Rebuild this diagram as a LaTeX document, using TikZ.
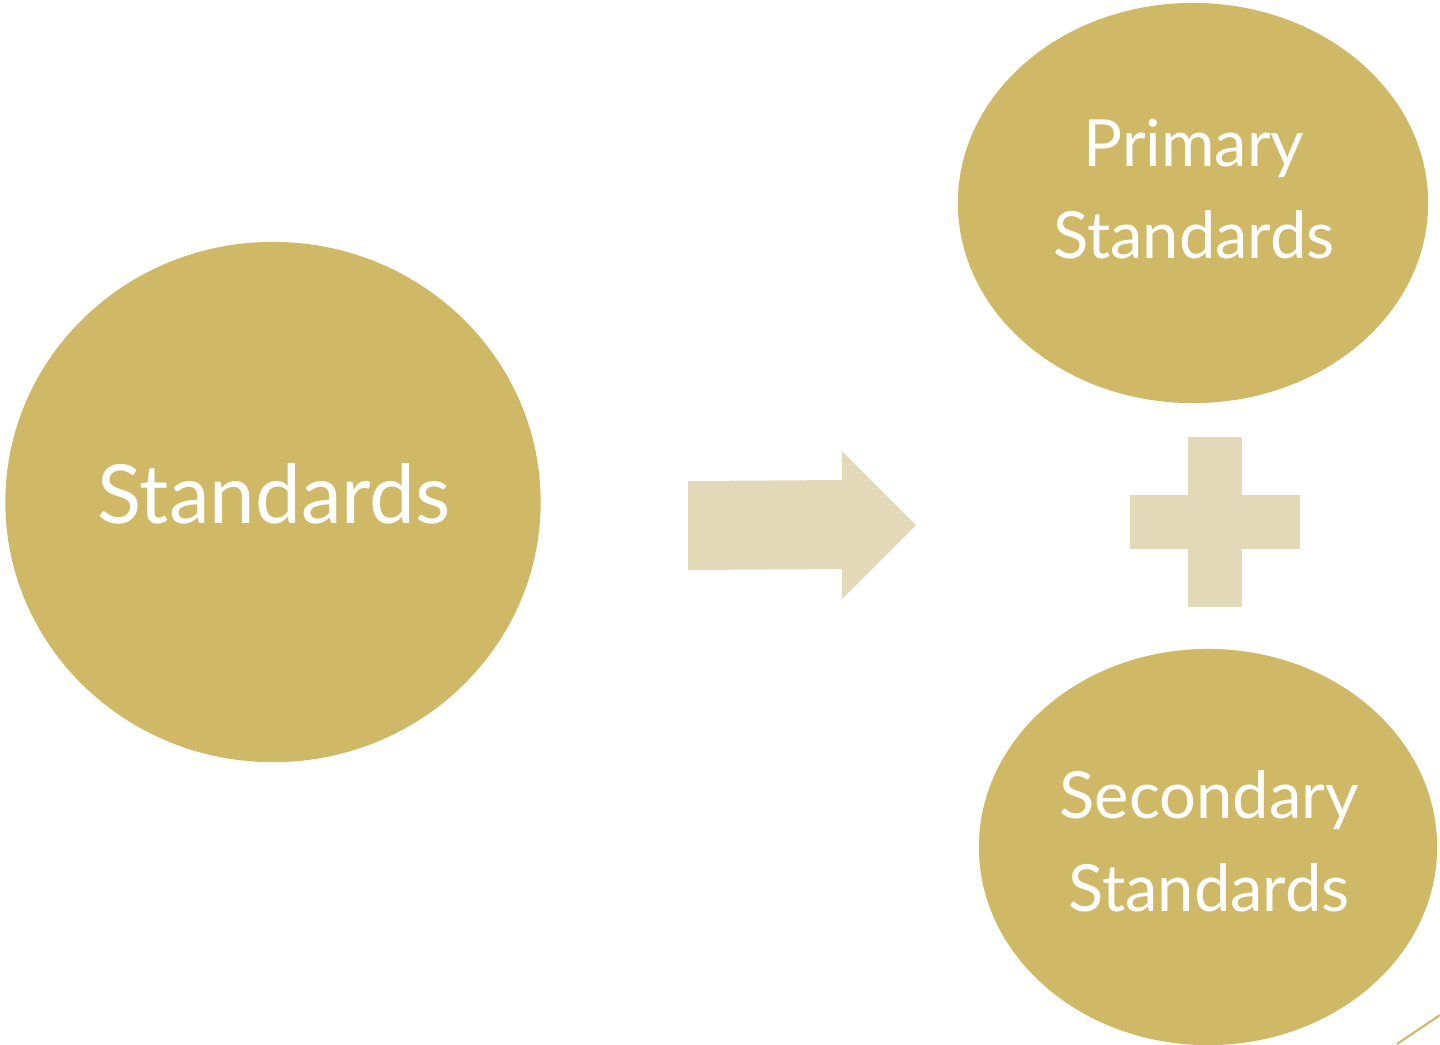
\documentclass[tikz,border=0pt]{standalone}
\usepackage{fontspec}
\setmainfont{Lato}
\usetikzlibrary{shapes.geometric}
\definecolor{gold}{RGB}{207,184,102}
\definecolor{sand}{RGB}{226,217,184}

\begin{document}
\begin{tikzpicture}[x=0.01cm, y=-0.01cm,
    blob/.style={ellipse, fill=gold, inner sep=0pt},
    txt/.style={text=white, align=center, inner sep=0pt},
    bigfont/.style={font=\fontsize{23.2}{28}\selectfont},
    smallfont/.style={font=\fontsize{18.5}{26.4}\selectfont},
]
\useasboundingbox (0,0) rectangle (1440,1044);

\node[blob, minimum width=5.35cm, minimum height=5.2cm] (std) at (273,502) {};
\node[blob, minimum width=4.7cm, minimum height=4.0cm] (prim) at (1193,203) {};
\node[blob, minimum width=4.58cm, minimum height=3.96cm] (sec) at (1208,847) {};

\node[txt, bigfont] (stdtxt) at (274,494) {Standards};
\node[txt, smallfont] (primtxt) at (1194,189) {Primary\\Standards};
\node[txt, smallfont] (sectxt) at (1209,841) {Secondary\\Standards};

% arrow from the general term to its two kinds
\fill[sand] (688,481) -- (842,480) -- (842,451) -- (916,525) -- (842,599) -- (842,569) -- (688,570) -- cycle;

% plus sign between the two kinds
\fill[sand] (1188,437) rectangle (1242,607);
\fill[sand] (1130,495) rectangle (1300,549);

\draw[gold, line width=0.6pt] (1397,1044) -- (1440,1015);
\end{tikzpicture}
\end{document}
